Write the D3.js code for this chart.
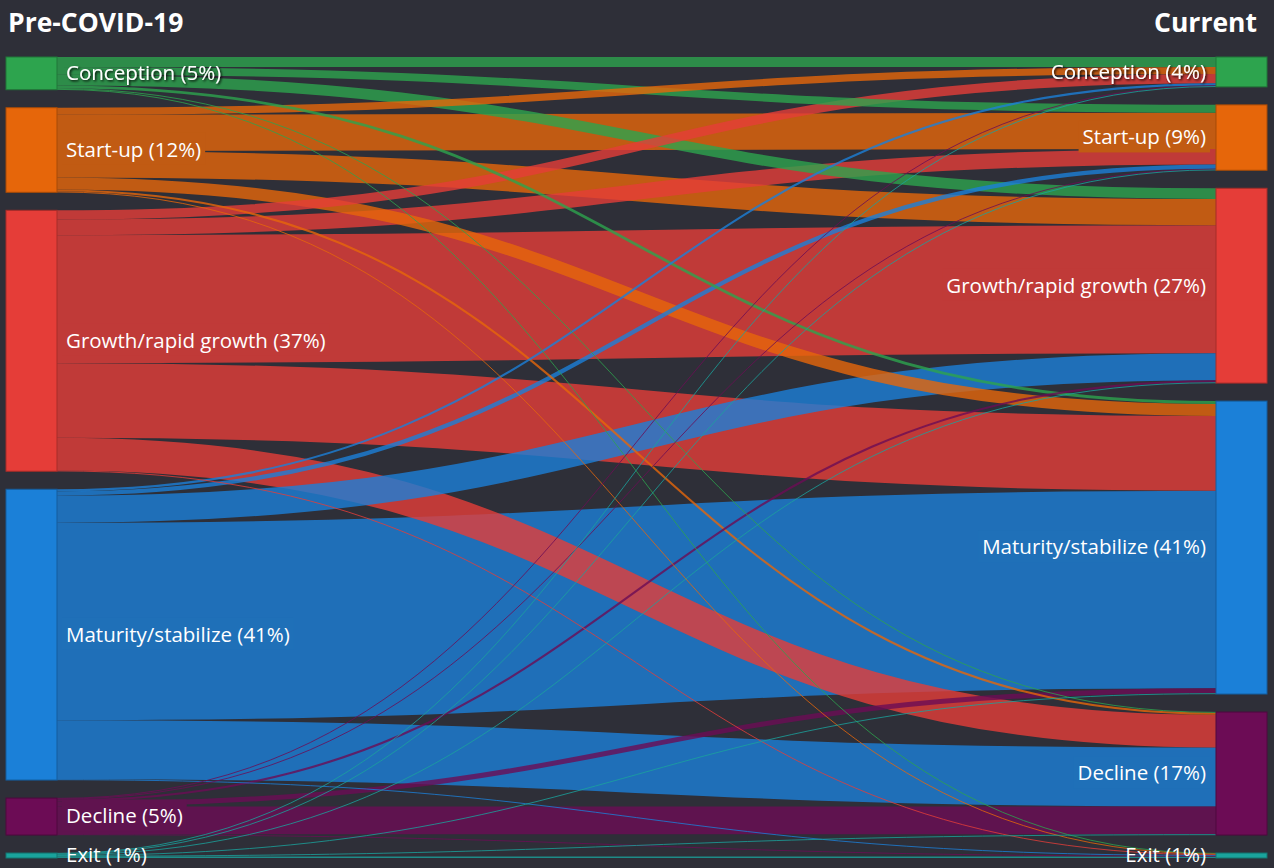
<!DOCTYPE html>
<html>
<head>
<meta charset="utf-8">
<script src="https://cdn.jsdelivr.net/npm/d3@7"></script>
<style>
  html, body { margin: 0; padding: 0; background: #2e2f38; }
  svg { display: block; }
  text { font-family: "Open Sans", "Noto Sans", sans-serif; fill: #ffffff; }
</style>
</head>
<body>
<svg id="chart" width="1274" height="868"></svg>
<script>
// Business life-cycle stages, in node order (top to bottom)
const stages = ["Conception", "Start-up", "Growth/rapid growth", "Maturity/stabilize", "Decline", "Exit"];
const stageColors = ["#2da44e", "#e6660a", "#e53d38", "#1b80d8", "#6c0c55", "#1aa39c"];
const columnTitles = ["Pre-COVID-19", "Current"];

// Share of respondents (%) moving from each pre-COVID-19 stage
// to each current stage (same order as `stages`)
const fromConception = [1.4, 1.1, 1.5, 0.4, 0.1, 0.1];
const fromStartup    = [1.0, 5.1, 3.7, 1.7, 0.3, 0.1];
const fromGrowth     = [1.3, 2.2, 18.0, 10.5, 4.6, 0.1];
const fromMaturity   = [0.3, 0.6, 3.8, 27.8, 8.3, 0.1];
const fromDecline    = [0.1, 0.1, 0.3, 0.7, 3.9, 0.1];
const fromExit       = [0.1, 0.1, 0.1, 0.1, 0.1, 0.2];
const flows = [fromConception, fromStartup, fromGrowth, fromMaturity, fromDecline, fromExit];

// Stages whose labels sit on a solid backing box
const boxedLabels = ["Start-up", "Growth/rapid growth", "Maturity/stabilize", "Decline"];

const W = 1274, H = 868;
const bg = "#2e2f38";
const plotTop = 57, plotBottom = 858, pad = 18, nodeW = 51;
const colX = [6, 1216];
const linkOpacity = 0.8;

const svg = d3.select("#chart");
svg.append("rect").attr("width", W).attr("height", H).attr("fill", bg);

const defs = svg.append("defs");
defs.append("filter").attr("id", "shadow")
  .attr("x", "-10%").attr("y", "-30%").attr("width", "120%").attr("height", "160%")
  .append("feDropShadow")
  .attr("dx", 1.3).attr("dy", 1.3).attr("stdDeviation", 0.8)
  .attr("flood-color", "#000").attr("flood-opacity", 0.95);

const n = stages.length;
const leftTotals = flows.map(r => d3.sum(r));
const rightTotals = stages.map((_, j) => d3.sum(flows, r => r[j]));
const total = Math.max(d3.sum(leftTotals), d3.sum(rightTotals));
const ky = d3.scaleLinear().domain([0, total]).range([0, plotBottom - plotTop - pad * (n - 1)]);

function buildColumn(totals, side) {
  let y = plotTop;
  const extra = (plotBottom - plotTop - pad * (n - 1) - ky(d3.sum(totals))) / (n - 1);
  return totals.map((v, i) => {
    const node = {
      index: i, side, value: v,
      x0: colX[side], x1: colX[side] + nodeW,
      y0: y, y1: y + ky(v)
    };
    y = node.y1 + pad + extra;
    return node;
  });
}
const leftNodes = buildColumn(leftTotals, 0);
const rightNodes = buildColumn(rightTotals, 1);

// Links: stacked by target order at the source, by source order at the target
const links = [];
const srcOffset = leftNodes.map(d => d.y0);
const tgtOffset = rightNodes.map(d => d.y0);
flows.forEach((row, i) => {
  row.forEach((v, j) => {
    const w = ky(v);
    links.push({ source: i, target: j, value: v, width: w, y0: srcOffset[i] + w / 2, y1: tgtOffset[j] + w / 2 });
    srcOffset[i] += w;
    tgtOffset[j] += w;
  });
});

const linkPath = d3.linkHorizontal()
  .source(d => [leftNodes[d.source].x1, d.y0])
  .target(d => [rightNodes[d.target].x0, d.y1]);

// Wide bands first so the narrow ones stay visible on top
const drawOrder = links.slice().sort((a, b) => d3.descending(a.value, b.value));

svg.append("g").attr("fill", "none")
  .selectAll("path").data(drawOrder).join("path")
  .attr("d", linkPath)
  .attr("stroke", d => stageColors[d.source])
  .attr("stroke-opacity", linkOpacity)
  .attr("stroke-width", d => Math.max(1, d.width));

// Nodes
const allNodes = leftNodes.concat(rightNodes);
svg.append("g").selectAll("rect").data(allNodes).join("rect")
  .attr("x", d => d.x0).attr("y", d => d.y0)
  .attr("width", d => d.x1 - d.x0).attr("height", d => Math.max(1, d.y1 - d.y0))
  .attr("fill", d => stageColors[d.index])
  .attr("stroke", d => d3.color(stageColors[d.index]).darker(0.9))
  .attr("stroke-width", 1);

// Node labels
const labelG = svg.append("g");
allNodes.forEach(d => {
  const stage = stages[d.index];
  const g = labelG.append("g");
  const left = d.side === 0;
  const t = g.append("text")
    .attr("x", left ? d.x1 + 9 : d.x0 - 10)
    .attr("y", (d.y0 + d.y1) / 2 - 0.5)
    .attr("dy", "0.36em")
    .attr("text-anchor", left ? "start" : "end")
    .style("font-size", "20.5px")
    .text(`${stage} (${Math.round(d.value)}%)`);
  if (stage === "Conception") t.attr("filter", "url(#shadow)");
  if (boxedLabels.includes(stage)) {
    const b = t.node().getBBox();
    const mid = b.y + b.height / 2;
    // backing box takes the colour of the band it sits on
    const band = links.filter(l => (left ? l.source : l.target) === d.index)
      .find(l => {
        const c = left ? l.y0 : l.y1;
        return c - l.width / 2 <= mid && c + l.width / 2 >= mid;
      });
    const c = band ? stageColors[band.source] : stageColors[d.index];
    g.insert("rect", "text")
      .attr("x", b.x - 4).attr("y", b.y - 2)
      .attr("width", b.width + 8).attr("height", b.height + 4)
      .attr("fill", d3.interpolateRgb(bg, c)(linkOpacity));
  }
});

// Column titles
svg.append("text").attr("x", 8).attr("y", 32)
  .style("font-size", "26.5px").style("font-weight", 700)
  .text(columnTitles[0]);
svg.append("text").attr("x", 1257).attr("y", 32).attr("text-anchor", "end")
  .style("font-size", "26.5px").style("font-weight", 700)
  .text(columnTitles[1]);
</script>
</body>
</html>
